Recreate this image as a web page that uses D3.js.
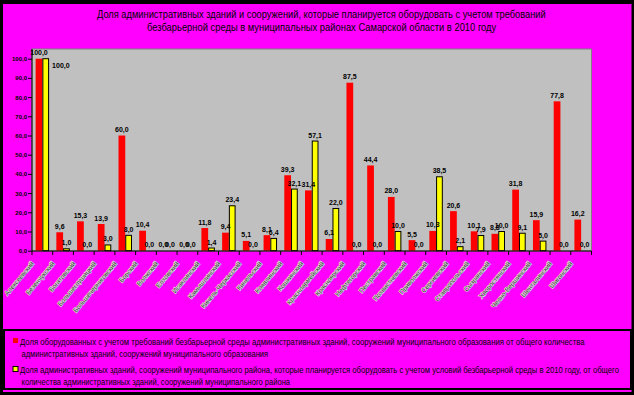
<!DOCTYPE html>
<html>
<head>
<meta charset="utf-8">
<script src="https://cdn.jsdelivr.net/npm/d3@7/dist/d3.min.js"></script>
<style>
  body { margin: 0; background: #000; }
  svg text { font-family: "Liberation Sans Narrow", "Arial Narrow", "Liberation Sans", Arial, sans-serif; }
</style>
</head>
<body>
<div id="chart"></div>
<script>
// муниципальные районы Самарской области
const districts = [
  "Алексеевский", "Безенчукский", "Богатовский", "Большеглушицкий", "Большечерниговский",
  "Борский", "Волжский", "Елховский", "Исаклинский", "Камышлинский",
  "Кинель-Черкасский", "Кинельский", "Клявлинский", "Кошкинский", "Красноармейский",
  "Красноярский", "Нефтегорский", "Пестравский", "Похвистневский", "Приволжский",
  "Сергиевский", "Ставропольский", "Сызранский", "Хворостянский", "Челно-Вершинский",
  "Шенталинский", "Шигонский"
];
// доля оборудованных с учетом требований безбарьерной среды, %
const equipped = [100.0, 9.6, 15.3, 13.9, 60.0, 10.4, 0.0, 0.0, 11.8, 9.4,
  5.1, 8.1, 39.3, 31.4, 6.1, 87.5, 44.4, 28.0, 5.5, 10.3,
  20.6, 10.1, 8.8, 31.8, 15.9, 77.8, 16.2];
// доля планируемых к оборудованию в 2010 году, %
const planned2010 = [100.0, 1.0, 0.0, 3.0, 8.0, 0.0, 0.0, 0.0, 1.4, 23.4,
  0.0, 6.4, 32.1, 57.1, 22.0, 0.0, 0.0, 10.0, 0.0, 38.5,
  2.1, 7.9, 10.0, 9.1, 5.0, 0.0, 0.0];
const yTicks = [0, 10, 20, 30, 40, 50, 60, 70, 80, 90, 100];

const titleLines = [
  "Доля административных зданий и сооружений, которые планируется оборудовать с учетом требований",
  "безбарьерной среды в муниципальных районах Самарской области в 2010 году"
];
const legendLines = [
  ["Доля оборудованных с учетом требований безбарьерной среды административных зданий, сооружений муниципального образования от общего количества",
   "административных зданий, сооружений муниципального образования"],
  ["Доля административных зданий, сооружений муниципального района, которые планируется оборудовать с учетом условий безбарьерной среды в 2010 году, от общего",
   "количества административных зданий, сооружений муниципального района"]
];

const width = 634, height = 395;
const plot = { left: 32, right: 591.5, top: 49, bottom: 251 };
const fmt = v => d3.format(".1f")(v).replace(".", ",");

// сжать строку по ширине (узкий шрифт как в оригинале)
function squeeze(sel, xs, ys, lens) {
  sel.each(function (d, i) {
    const w = this.getComputedTextLength();
    const k = w > 0 ? lens(d, i) / w : 1;
    d3.select(this).attr("transform", `translate(${xs(d, i)},${ys(d, i)}) scale(${k},1)`);
  });
}

const svg = d3.select("#chart").append("svg")
  .attr("width", width).attr("height", height);

// фон
svg.append("rect").attr("width", width).attr("height", height).attr("fill", "#000");
svg.append("rect").attr("x", 3).attr("y", 4).attr("width", 628.5).attr("height", 388)
  .attr("fill", "#ff00ff");

// заголовок
const titleLen = [449, 350], titleX = [97, 147];
svg.selectAll("text.title").data(titleLines).join("text")
  .attr("class", "title")
  .attr("font-size", 10.5)
  .attr("fill", "#000")
  .text(d => d)
  .call(squeeze, (d, i) => titleX[i], (d, i) => 17.5 + i * 13.5, (d, i) => titleLen[i]);

// область построения
svg.append("rect")
  .attr("x", plot.left).attr("y", plot.top)
  .attr("width", plot.right - plot.left).attr("height", plot.bottom - plot.top)
  .attr("fill", "#c0c0c0").attr("stroke", "#808080");

const x0 = d3.scaleBand().domain(districts)
  .range([plot.left, plot.right]).paddingInner(0.35).paddingOuter(0.175);
const x1 = d3.scaleBand().domain(["equipped", "planned"])
  .range([0, x0.bandwidth()]);
const y = d3.scaleLinear().domain([0, 100]).range([250.7, 58.7]);

// ось Y
const yAxis = svg.append("g")
  .attr("transform", `translate(${plot.left},0)`)
  .call(d3.axisLeft(y).tickValues(yTicks).tickSize(4).tickPadding(1).tickFormat(fmt));
yAxis.select(".domain").attr("stroke", "#000").attr("d", `M0,${plot.top}V${plot.bottom}`);
yAxis.selectAll(".tick line").attr("stroke", "#000");
yAxis.selectAll("text").attr("font-size", 6).attr("font-weight", "bold").attr("fill", "#000");

// столбцы
const rows = districts.map((d, i) => ({ name: d, equipped: equipped[i], planned: planned2010[i] }));
const groups = svg.append("g").selectAll("g").data(rows).join("g")
  .attr("transform", d => `translate(${x0(d.name)},0)`);

groups.append("rect")
  .attr("x", x1("equipped")).attr("width", x1.bandwidth())
  .attr("y", d => y(d.equipped)).attr("height", d => y(0) - y(d.equipped))
  .attr("fill", "#ff0000");

groups.append("rect")
  .attr("x", x1("planned") + 0.5).attr("width", x1.bandwidth() - 1)
  .attr("y", d => y(d.planned)).attr("height", d => y(0) - y(d.planned))
  .attr("fill", "#ffff00").attr("stroke", "#000").attr("stroke-width", 1);

// подписи значений
groups.append("text")
  .attr("x", x1("equipped") + x1.bandwidth() / 2)
  .attr("y", d => y(d.equipped) - 3.5)
  .attr("text-anchor", "middle")
  .attr("font-size", 7).attr("font-weight", "bold")
  .text(d => fmt(d.equipped));

groups.append("text")
  .attr("x", d => d.planned >= 100 ? x1("planned") + x1.bandwidth() + 3 : x1("planned") + x1.bandwidth() / 2)
  .attr("y", d => d.planned >= 100 ? y(d.planned) + 9 : y(d.planned) - 3.5)
  .attr("text-anchor", d => d.planned >= 100 ? "start" : "middle")
  .attr("font-size", 7).attr("font-weight", "bold")
  .text(d => fmt(d.planned));

// ось X
const step = x0.step();
svg.append("line")
  .attr("x1", plot.left).attr("x2", plot.right)
  .attr("y1", plot.bottom).attr("y2", plot.bottom)
  .attr("stroke", "#000");
svg.append("g").selectAll("line").data(d3.range(districts.length + 1)).join("line")
  .attr("x1", i => plot.left + i * step).attr("x2", i => plot.left + i * step)
  .attr("y1", plot.bottom).attr("y2", plot.bottom + 4)
  .attr("stroke", "#000");

svg.append("g").selectAll("text").data(districts).join("text")
  .attr("transform", d => `translate(${x0(d) + x0.bandwidth() / 2 - 8},${plot.bottom + 13}) rotate(-50)`)
  .attr("text-anchor", "end")
  .attr("font-size", 6.5)
  .attr("fill", "#333")
  .attr("stroke", "#e0e0e0").attr("stroke-width", 1.2)
  .attr("paint-order", "stroke")
  .text(d => d);

// легенда
svg.append("rect")
  .attr("x", 4).attr("y", 330).attr("width", 627).attr("height", 59)
  .attr("fill", "none").attr("stroke", "#000").attr("stroke-width", 2);

const legendColors = ["#ff0000", "#ffff00"];
const legendLen = [[565, 247], [600, 269]];
const legend = svg.append("g").selectAll("g").data(legendLines).join("g")
  .attr("transform", (d, i) => `translate(0,${338 + i * 28.5})`);
legend.append("rect")
  .attr("x", 13).attr("y", 0).attr("width", 5).attr("height", 5)
  .attr("fill", (d, i) => legendColors[i])
  .attr("stroke", (d, i) => i === 1 ? "#000" : "none");
legend.each(function (lines, i) {
  d3.select(this).selectAll("text").data(lines).join("text")
    .attr("font-size", 8.5)
    .attr("fill", "#000")
    .text(d => d)
    .call(squeeze, (d, j) => j === 0 ? 20 : 21.5, (d, j) => 6.5 + j * 12, (d, j) => legendLen[i][j]);
});
</script>
</body>
</html>
